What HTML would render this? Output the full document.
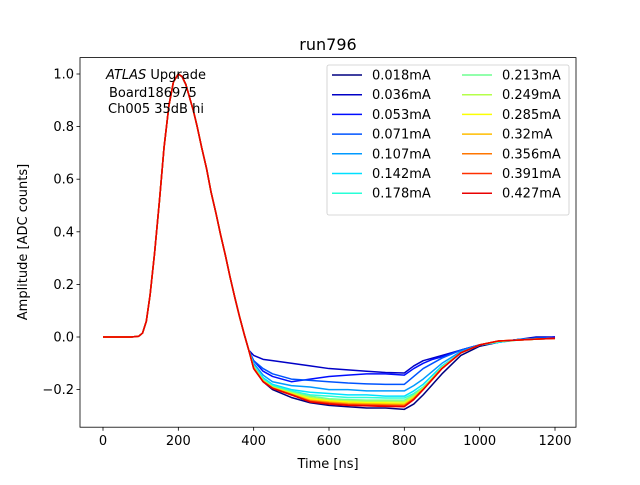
<!DOCTYPE html>
<html><head><meta charset="utf-8"><style>
body{margin:0;background:#fff}
svg{font-family:"DejaVu Sans","Liberation Sans",sans-serif}
</style></head><body>
<svg id="c" width="640" height="480" viewBox="0 0 640 480"></svg>
<script>
const labels=["0.018mA","0.036mA","0.053mA","0.071mA","0.107mA","0.142mA","0.178mA","0.213mA","0.249mA","0.285mA","0.32mA","0.356mA","0.391mA","0.427mA"];
const headT=[0,25,50,75,95,105,115,125,137,150,162,175,187,200,210,220,230,240,250,262,275,287,300,312,325,337,350,362,375,387];
const headV=[0,0,0,0,0.003,0.015,0.06,0.16,0.32,0.52,0.72,0.88,0.97,1.0,0.99,0.96,0.91,0.86,0.8,0.72,0.64,0.55,0.47,0.39,0.31,0.23,0.15,0.08,0.01,-0.05];
const tailT=[400,425,450,500,550,600,650,700,750,800,825,850,875,900,950,1000,1050,1100,1150,1200];
const tails=[
[-0.11,-0.17,-0.2,-0.23,-0.25,-0.26,-0.265,-0.27,-0.27,-0.275,-0.255,-0.22,-0.18,-0.14,-0.07,-0.035,-0.02,-0.01,-0.005,0],
[-0.07,-0.085,-0.09,-0.1,-0.11,-0.12,-0.125,-0.13,-0.135,-0.137,-0.11,-0.09,-0.08,-0.07,-0.05,-0.03,-0.02,-0.01,0,0],
[-0.09,-0.13,-0.15,-0.17,-0.16,-0.15,-0.145,-0.14,-0.14,-0.145,-0.12,-0.1,-0.085,-0.075,-0.05,-0.03,-0.02,-0.01,-0.005,0],
[-0.09,-0.12,-0.14,-0.16,-0.165,-0.17,-0.175,-0.178,-0.18,-0.18,-0.15,-0.12,-0.1,-0.08,-0.05,-0.03,-0.02,-0.01,-0.005,-0.005],
[-0.1,-0.145,-0.17,-0.185,-0.19,-0.2,-0.2,-0.205,-0.205,-0.205,-0.185,-0.16,-0.13,-0.1,-0.055,-0.03,-0.02,-0.01,-0.005,-0.005],
[-0.11,-0.155,-0.18,-0.2,-0.21,-0.215,-0.22,-0.22,-0.225,-0.225,-0.205,-0.18,-0.145,-0.11,-0.06,-0.03,-0.02,-0.012,-0.008,-0.005],
[-0.11,-0.16,-0.185,-0.205,-0.22,-0.225,-0.23,-0.23,-0.232,-0.232,-0.215,-0.19,-0.155,-0.115,-0.06,-0.03,-0.018,-0.012,-0.008,-0.005],
[-0.115,-0.165,-0.19,-0.21,-0.225,-0.235,-0.238,-0.24,-0.24,-0.24,-0.22,-0.192,-0.155,-0.115,-0.06,-0.03,-0.016,-0.012,-0.008,-0.005],
[-0.115,-0.165,-0.19,-0.212,-0.23,-0.24,-0.243,-0.245,-0.245,-0.246,-0.225,-0.195,-0.157,-0.117,-0.06,-0.03,-0.016,-0.012,-0.008,-0.005],
[-0.117,-0.167,-0.192,-0.215,-0.235,-0.243,-0.247,-0.25,-0.25,-0.252,-0.23,-0.197,-0.158,-0.118,-0.06,-0.03,-0.016,-0.012,-0.008,-0.005],
[-0.118,-0.168,-0.193,-0.217,-0.24,-0.247,-0.252,-0.254,-0.255,-0.256,-0.232,-0.198,-0.159,-0.119,-0.06,-0.03,-0.015,-0.012,-0.008,-0.005],
[-0.119,-0.169,-0.194,-0.218,-0.243,-0.25,-0.255,-0.257,-0.258,-0.26,-0.235,-0.199,-0.16,-0.12,-0.06,-0.03,-0.015,-0.012,-0.008,-0.005],
[-0.12,-0.17,-0.195,-0.22,-0.245,-0.253,-0.258,-0.26,-0.262,-0.263,-0.237,-0.2,-0.16,-0.12,-0.06,-0.03,-0.015,-0.012,-0.008,-0.005],
[-0.12,-0.17,-0.195,-0.22,-0.247,-0.255,-0.26,-0.262,-0.264,-0.265,-0.238,-0.2,-0.16,-0.12,-0.06,-0.03,-0.015,-0.012,-0.008,-0.005]];
const xTicks=[0,200,400,600,800,1000,1200];
const yTicks=[-0.2,0.0,0.2,0.4,0.6,0.8,1.0];

const NS="http://www.w3.org/2000/svg",svg=document.getElementById('c');
const L=80,R=576,T=57.6,B=427.2;
const X=t=>103+t*(452/1200);
const Y=v=>337-v*263;
function mk(tag,a,p){const e=document.createElementNS(NS,tag);for(const k in a)e.setAttribute(k,a[k]);(p||svg).appendChild(e);return e;}
function jet(i){const t=i*0.069;const c=x=>Math.round(255*Math.max(0,Math.min(1,1.5-Math.abs(x))));return `rgb(${c(4*t-3)},${c(4*t-2)},${c(4*t-1)})`;}

const clip=mk('clipPath',{id:'pc'});mk('rect',{x:L,y:T,width:R-L,height:B-T},clip);
const g=mk('g',{'clip-path':'url(#pc)'});
tails.forEach((tail,i)=>{
  const pts=headT.map((t,j)=>X(t)+','+Y(headV[j])).concat(tailT.map((t,j)=>X(t)+','+Y(tail[j])));
  const pl=mk('polyline',{points:pts.join(' '),fill:'none',stroke:jet(i),'stroke-width':1.5,'stroke-linejoin':'round'},g);
  
  
});
const frame=mk('rect',{x:L,y:T,width:R-L,height:B-T,fill:'none',stroke:'#000','stroke-width':0.8});


xTicks.forEach(t=>{
  mk('line',{x1:X(t),x2:X(t),y1:B,y2:B+3.5,stroke:'#000','stroke-width':0.8});
  const tx=mk('text',{x:X(t),y:B+18,'text-anchor':'middle','font-size':13});tx.textContent=t;
  
  
});
yTicks.forEach(v=>{
  mk('line',{x1:L-3.5,x2:L,y1:Y(v),y2:Y(v),stroke:'#000','stroke-width':0.8});
  const tx=mk('text',{x:L-6,y:Y(v)+4.5,'text-anchor':'end','font-size':13});tx.textContent=(v<0?'\u2212':'')+Math.abs(v).toFixed(1);
  
  
});
let e=mk('text',{x:328,y:50,'text-anchor':'middle','font-size':16});e.textContent='run796';

e=mk('text',{x:328,y:468,'text-anchor':'middle','font-size':13});e.textContent='Time [ns]';

e=mk('text',{x:27,y:242,'text-anchor':'middle','font-size':13,transform:'rotate(-90 27 242)'});e.textContent='Amplitude [ADC counts]';

e=mk('text',{x:106,y:79,'font-size':13});e.innerHTML='<tspan font-style="italic">ATLAS</tspan> Upgrade';

e=mk('text',{x:109,y:97,'font-size':13});e.textContent='Board186975';

e=mk('text',{x:108,y:113,'font-size':13});e.textContent='Ch005 35dB hi';

const lg=mk('g',{});

mk('rect',{x:327,y:65,width:242,height:150,rx:2,fill:'#fff','fill-opacity':0.8,stroke:'#ccc','stroke-width':0.8},lg);
labels.forEach((lab,i)=>{
  const col=Math.floor(i/7),row=i%7,x0=332+col*130,y0=75+row*19.7;
  const en=mk('g',{},lg);
  
  
  mk('line',{x1:x0,x2:x0+30,y1:y0,y2:y0,stroke:jet(i),'stroke-width':1.5},en);
  const t=mk('text',{x:x0+40,y:y0+4.5,'font-size':13},en);t.textContent=lab;
});
</script>
</body></html>
